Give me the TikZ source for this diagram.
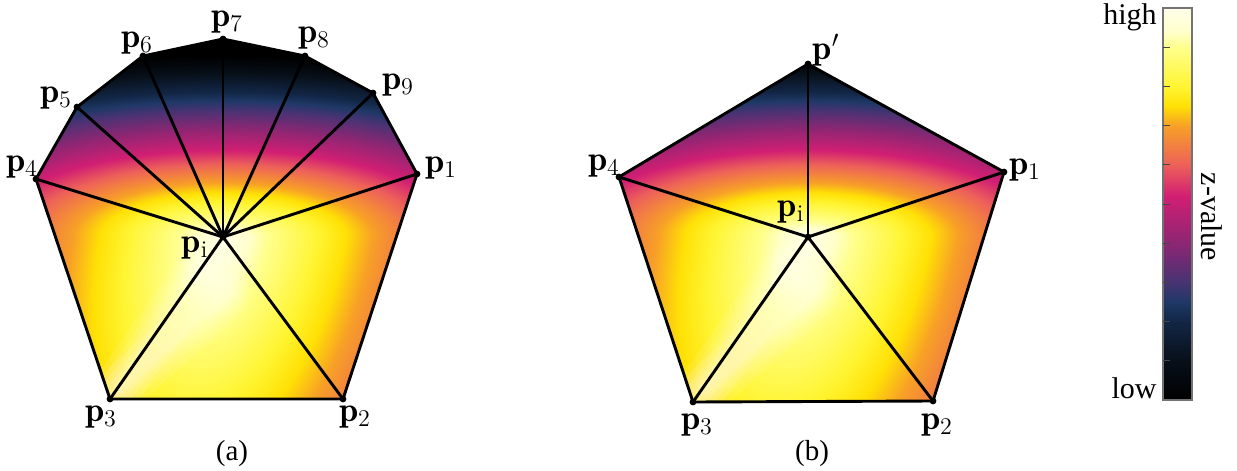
\documentclass[tikz,border=0pt]{standalone}
\usepackage{fontspec}
\newfontfamily\timesf{Liberation Serif}
\usetikzlibrary{calc}
\definecolor{zA}{rgb}{1,1,0.92}
\definecolor{zB}{rgb}{1,1,0.8}
\definecolor{zC}{rgb}{1,1,0.55}
\definecolor{zD}{rgb}{1,0.96,0.2}
\definecolor{zE}{rgb}{1,0.88,0.02}
\definecolor{zF}{rgb}{0.97,0.63,0.15}
\definecolor{zG}{rgb}{0.93,0.38,0.35}
\definecolor{zH}{rgb}{0.82,0.12,0.45}
\definecolor{zI}{rgb}{0.55,0.15,0.45}
\definecolor{zJ}{rgb}{0.28,0.2,0.45}
\definecolor{zK}{rgb}{0.12,0.22,0.4}
\definecolor{zL}{rgb}{0.07,0.15,0.27}
\definecolor{zM}{rgb}{0.03,0.06,0.1}
\definecolor{zN}{rgb}{0,0,0}
\definecolor{barframe}{rgb}{0.45,0.45,0.45}
\pgfdeclareradialshading{zmap}{\pgfpointorigin}{%
color(0bp)=(zA); color(1.2bp)=(zB); color(2.1bp)=(zC); color(4.3bp)=(zD);
color(5.6bp)=(zE); color(6.8bp)=(zF); color(9.1bp)=(zG); color(10.9bp)=(zH);
color(13.6bp)=(zI); color(15.9bp)=(zJ); color(17.05bp)=(zK); color(18.2bp)=(zL);
color(20.45bp)=(zM); color(22.7bp)=(zN); color(50bp)=(zN)}
\pgfdeclareverticalshading{zbar}{100bp}{%
color(0bp)=(zN); color(25bp)=(zN); color(30bp)=(zM); color(35bp)=(zL); color(37.5bp)=(zK);
color(40bp)=(zJ); color(45bp)=(zI); color(51bp)=(zH); color(55bp)=(zG); color(60bp)=(zF);
color(62.5bp)=(zE); color(65bp)=(zD); color(70bp)=(zC); color(72bp)=(zB); color(75bp)=(zA);
color(100bp)=(zA)}
% radial map placed explicitly: 25bp of the shading -> (a,b) units (1 unit = 0.5pt), with slant
\newcommand\zfield[4]{%
  \begin{scope}[shift={(#1)}]
  \begin{scope}[xslant=#4]
  \begin{scope}[xscale={#2*0.5/25.09375},yscale={#3*0.5/25.09375}]
    \pgflowlevelsynccm\pgfuseshading{zmap}%
  \end{scope}
  \end{scope}
  \end{scope}}
\begin{document}
\begin{tikzpicture}[x=0.5pt,y=-0.5pt,
  edge/.style={line width=1.45pt,line join=round,line cap=round},
  vdot/.style={circle,fill=black,inner sep=0pt,minimum size=3.4pt},
  plab/.style={font=\fontsize{17.28}{20}\selectfont,inner sep=0pt},
  captxt/.style={font=\timesf\fontsize{14.5}{16}\selectfont,inner sep=0pt},
  cbl/.style={font=\timesf\fontsize{15}{17}\selectfont,inner sep=0pt},
  tickst/.style={draw=barframe!60!black,line width=0.5pt},
  glow/.style={draw=white,line cap=round,opacity=0.1}]
\useasboundingbox (0,0) rectangle (1237,471);
% ---------- panel (a)
\coordinate (ai) at (223,237);
\coordinate (a1) at (417,174);
\coordinate (a2) at (343,399);
\coordinate (a3) at (110,399);
\coordinate (a4) at (36,179);
\coordinate (a5) at (77,107);
\coordinate (a6) at (143,56);
\coordinate (a7) at (223,39);
\coordinate (a8) at (305,56);
\coordinate (a9) at (373,93);
\coordinate (aglow) at (225,295);
\begin{scope}
  \clip (a1)--(a2)--(a3)--(a4)--(a5)--(a6)--(a7)--(a8)--(a9)--cycle;
  \begin{scope}
    \clip (0,0) rectangle (620,238);
    \zfield{ai}{550}{200}{0}
  \end{scope}
  \begin{scope}
    \clip (0,236) rectangle (620,471);
    \zfield{ai}{550}{1000}{0.18}
  \end{scope}
  \foreach \w in {24,18,13,8,4} {
    \draw[glow,line width=\w pt] ($(a3)!0.06!(ai)$) -- ($(a3)!0.8!(ai)$);
    \draw[glow,line width=\w pt] ($(a3)!0.1!(aglow)$) -- (aglow);
  }
\end{scope}
\draw[edge] (a1)--(a2)--(a3)--(a4)--(a5)--(a6)--(a7)--(a8)--(a9)--cycle;
\foreach \k in {1,...,9} \draw[edge] (ai)--(a\k);
\foreach \k in {1,...,9,i} \node[vdot] (da\k) at (a\k) {};
\node[plab] (la1) at (441,168) {$\mathbf{p}_1$};
\node[plab] (la2) at (355,417) {$\mathbf{p}_2$};
\node[plab] (la3) at (101,417) {$\mathbf{p}_3$};
\node[plab] (la4) at (22,167) {$\mathbf{p}_4$};
\node[plab] (la5) at (56,98) {$\mathbf{p}_5$};
\node[plab] (la6) at (137,43) {$\mathbf{p}_6$};
\node[plab] (la7) at (227,22) {$\mathbf{p}_7$};
\node[plab] (la8) at (314,38) {$\mathbf{p}_8$};
\node[plab] (la9) at (398,85) {$\mathbf{p}_9$};
\node[plab] (lai) at (195,248) {$\mathbf{p}_\mathrm{i}$};
\node[captxt] (capa) at (232,454) {(a)};
% ---------- panel (b)
\coordinate (bi) at (808,237);
\coordinate (b1) at (1004,172);
\coordinate (b2) at (933,401);
\coordinate (b3) at (693,402);
\coordinate (b4) at (619,177);
\coordinate (bq) at (808,64);
\coordinate (bglow) at (815,292);
\begin{scope}
  \clip (b1)--(b2)--(b3)--(b4)--(bq)--cycle;
  \begin{scope}
    \clip (560,0) rectangle (1100,238);
    \zfield{bi}{550}{200}{0}
  \end{scope}
  \begin{scope}
    \clip (560,236) rectangle (1100,471);
    \zfield{bi}{550}{1000}{0.18}
  \end{scope}
  \foreach \w in {24,18,13,8,4} {
    \draw[glow,line width=\w pt] ($(b3)!0.06!(bi)$) -- ($(b3)!0.8!(bi)$);
    \draw[glow,line width=\w pt] ($(b3)!0.1!(bglow)$) -- (bglow);
  }
\end{scope}
\draw[edge] (b1)--(b2)--(b3)--(b4)--(bq)--cycle;
\foreach \k in {1,2,3,4,q} \draw[edge] (bi)--(b\k);
\foreach \k in {1,2,3,4,q,i} \node[vdot] (db\k) at (b\k) {};
\node[plab] (lb1) at (1025,170) {$\mathbf{p}_1$};
\node[plab] (lb2) at (937,425) {$\mathbf{p}_2$};
\node[plab] (lb3) at (697,425) {$\mathbf{p}_3$};
\node[plab] (lb4) at (604,166) {$\mathbf{p}_4$};
\node[plab] (lbq) at (826,50) {$\mathbf{p}'$};
\node[plab] (lbi) at (791,212) {$\mathbf{p}_\mathrm{i}$};
\node[captxt] (capb) at (812,454) {(b)};
% ---------- colour bar
\shade[shading=zbar] (1163,8) rectangle (1192,400);
\draw[barframe,line width=0.6pt] (1163,8) rectangle (1192,400);
\foreach \k in {1,...,9} \draw[tickst] (1163,{400-39.2*\k}) -- ++(7,0);
\node[cbl,anchor=base east] (hi) at (1157,25) {high};
\node[cbl,anchor=base east] (lo) at (1157,398) {low};
\node[cbl,rotate=-90] (zv) at (1212,217) {z-value};
\end{tikzpicture}
\end{document}
